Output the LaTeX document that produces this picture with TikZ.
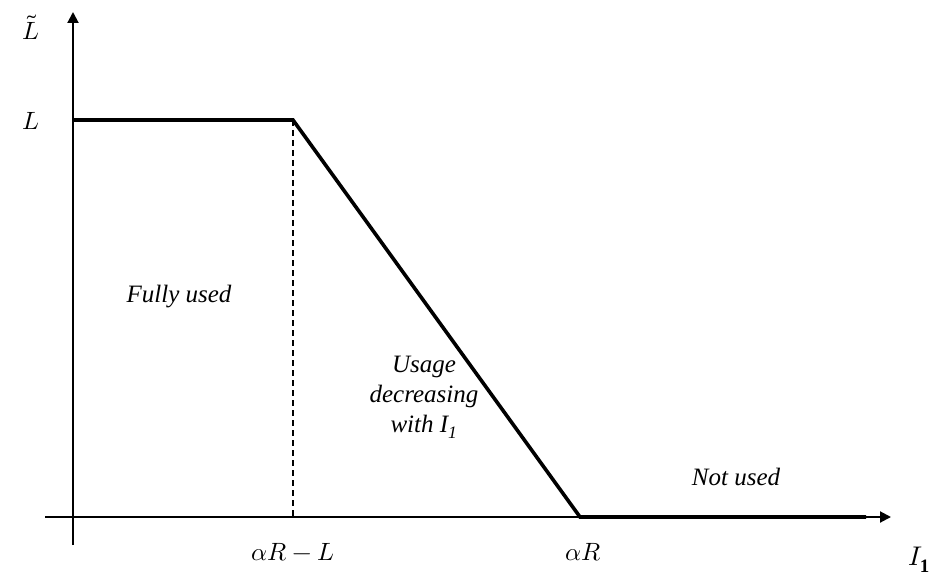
\documentclass[tikz,border=0pt]{standalone}
\usepackage{fontspec}
\setmainfont{Liberation Serif}
\usepackage{unicode-math}
\setmathfont{Latin Modern Math}
\usetikzlibrary{arrows.meta}
\begin{document}
\begin{tikzpicture}[x=1pt,y=-1pt,
  axis/.style={line width=2pt,-{Triangle[length=11pt,width=11pt]}},
  curve/.style={line width=3.6pt,line join=miter},
  guide/.style={line width=1.4pt,dash pattern=on 6pt off 4pt},
  region/.style={font=\fontsize{25}{30}\selectfont\itshape,align=center},
  mlabel/.style={font=\fontsize{25}{28}\selectfont}]
\useasboundingbox (0,0) rectangle (934,580);
% axes
\coordinate (ytop) at (73,12);
\coordinate (ybot) at (73,545);
\coordinate (xleft) at (45,517);
\coordinate (xright) at (891,517);
\draw[axis] (ybot) -- (ytop);
\draw[axis] (xleft) -- (xright);
% usage curve
\coordinate (p0) at (73,120);
\coordinate (p1) at (293,120);
\coordinate (p2) at (580,517);
\coordinate (p3) at (866,517);
\coordinate (foot) at (293,517);
\draw[guide] (p1) -- (foot);
\draw[curve] (p0) -- (p1) -- (p2) -- (p3);
% labels
\node[mlabel] (lt) at (31,27) {$\tilde{L}$};
\node[mlabel] (ll) at (31,121) {$L$};
\node[mlabel] (a1) at (293,552) {$\alpha R - L$};
\node[mlabel] (a2) at (583,552) {$\alpha R$};
\node[font=\fontsize{27}{30}\selectfont] (ix) at (919,560) {$I_{\mathbf{1}}$};
\node[region] (r1) at (179,297) {Fully used};
\node[region] (r2) at (424,397) {Usage\\decreasing\\with \textit{I\textsubscript{1}}};
\node[region] (r3) at (736,477) {Not used};
\end{tikzpicture}
\end{document}
